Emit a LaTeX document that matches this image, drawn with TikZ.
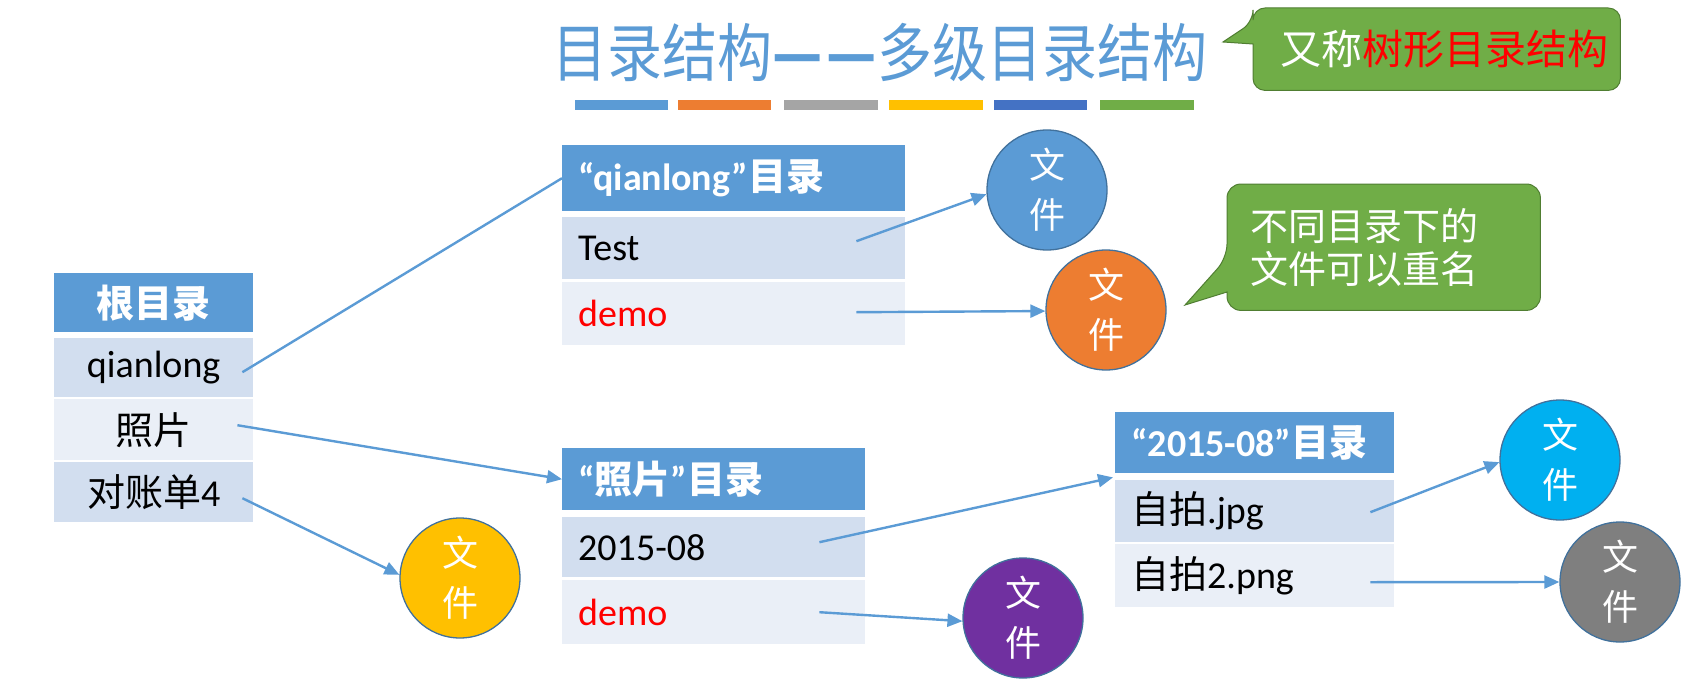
\documentclass[tikz,border=0pt]{standalone}
\usepackage{fontspec}
\usepackage{graphicx}
\setmainfont{Carlito}
\newfontfamily\cjk{Noto Sans CJK SC}
\usetikzlibrary{arrows.meta,calc,backgrounds}
\definecolor{hdrc}{HTML}{5B9BD5}
\definecolor{rowac}{HTML}{D2DEEF}
\definecolor{rowbc}{HTML}{EAEFF7}
\definecolor{arrc}{HTML}{5B9BD5}
\definecolor{cblue}{HTML}{5B9BD5}
\definecolor{corange}{HTML}{ED7D31}
\definecolor{cgray}{HTML}{A5A5A5}
\definecolor{cyellow}{HTML}{FFC000}
\definecolor{cdblue}{HTML}{4472C4}
\definecolor{cgreen}{HTML}{70AD47}
\definecolor{cpurple}{HTML}{7030A0}
\definecolor{ccyan}{HTML}{00B0F0}
\definecolor{cdgray}{HTML}{7F7F7F}
\definecolor{circline}{HTML}{41719C}
\definecolor{calloutline}{HTML}{507E32}
\definecolor{redtxt}{HTML}{FF0000}
\tikzset{
  cell/.style={anchor=north west, inner xsep=16pt, inner ysep=0pt, align=left,
    font=\fontsize{38}{42}\selectfont},
  hdr/.style={cell, fill=hdrc, text=white, font=\fontsize{38}{42}\selectfont\bfseries},
  rowa/.style={cell, fill=rowac, text=black},
  rowb/.style={cell, fill=rowbc, text=black},
  fcirc/.style={circle, minimum size=120pt, inner sep=0pt, draw=circline, line width=1.3pt,
    text=white, align=center, font=\cjk\fontsize{36}{50}\selectfont},
  conn/.style={draw=arrc, line width=2.4pt},
  arr/.style={conn, -{Triangle[length=15pt,width=13pt]}},
  callout/.style={fill=cgreen, draw=calloutline, line width=1pt},
}
\begin{document}
\begin{tikzpicture}[x=1pt,y=-1pt]
\useasboundingbox (0,0) rectangle (1704,682);

% title
\node[text=hdrc, font=\cjk\fontsize{55}{60}\selectfont, inner sep=0pt] (ttl) at (880,52)
  {\scalebox{1}[1.15]{目录结构{\bfseries —\hspace{4pt}—}多级目录结构}};
\fill[cblue]   (575,100) rectangle (668,110);
\fill[corange] (678,100) rectangle (771,110);
\fill[cgray]   (784,100) rectangle (878,110);
\fill[cyellow] (889,100) rectangle (983,110);
\fill[cdblue]  (994,100) rectangle (1087,110);
\fill[cgreen]  (1100,100) rectangle (1194,110);

% callout 1
\node[anchor=north west, minimum width=367pt, minimum height=82pt, inner sep=0pt,
  text=white, font=\cjk\fontsize{41}{46}\selectfont] (co1) at (1253,8)
  {\hspace*{16pt}又称{\color{redtxt}树形目录结构}};
\begin{scope}[on background layer]
\draw[callout] ($(co1.north west)+(0,36)$) [rounded corners=12pt] -- (co1.south west)
  -- (co1.south east) -- (co1.north east) -- (co1.north west) -- ($(co1.north west)+(0,14)$)
  [sharp corners] -- ($(co1.north west)+(-30,34)$) -- cycle;
\end{scope}

% callout 2
\node[anchor=north west, minimum width=313pt, minimum height=126pt, inner xsep=23pt,
  inner ysep=0pt, text width=267pt, align=left,
  text=white, font=\cjk\fontsize{38}{43}\selectfont] (co2) at (1227,184)
  {不同目录下的\\文件可以重名};
\begin{scope}[on background layer]
\draw[callout] ($(co2.north west)+(0,108)$) [rounded corners=14pt] -- (co2.south west)
  -- (co2.south east) -- (co2.north east) -- (co2.north west) -- ($(co2.north west)+(0,74)$)
  [sharp corners] -- ($(co2.north west)+(-42,121)$) -- cycle;
\end{scope}

% root table
\node[hdr, text width=167pt, minimum height=59pt, align=center] (rh) at (54,273) {{\cjk 根目录}};
\node[rowa, text width=167pt, minimum height=59pt, align=center] (r1) at (54,338) {qianlong};
\node[rowb, text width=167pt, minimum height=61pt, align=center] (r2) at (54,399) {{\cjk 照片}};
\node[rowa, text width=167pt, minimum height=60pt, align=center] (r3) at (54,462) {{\cjk 对账单}4};

% qianlong table
\node[hdr, text width=311pt, minimum height=66pt] (qh) at (562,145) {“qianlong”{\cjk 目录}};
\node[rowa, text width=311pt, minimum height=62pt] (qt) at (562,217) {Test};
\node[rowb, text width=311pt, minimum height=63pt, text=redtxt] (qd) at (562,282) {demo};

% photo table
\node[hdr, text width=271pt, minimum height=62pt] (ph) at (562,448) {“{\cjk 照片}”{\cjk 目录}};
\node[rowa, text width=271pt, minimum height=60pt] (p1) at (562,517) {2015-08};
\node[rowb, text width=271pt, minimum height=64pt, text=redtxt] (p2) at (562,580) {demo};

% 2015-08 table
\node[hdr, text width=247pt, minimum height=61pt] (dh) at (1115,412) {“2015-08”{\cjk 目录}};
\node[rowa, text width=247pt, minimum height=62pt] (d1) at (1115,480) {{\cjk 自拍}.jpg};
\node[rowb, text width=247pt, minimum height=63pt] (d2) at (1115,544) {{\cjk 自拍}2.png};

% file circles
\node[fcirc, fill=cblue]   (fb) at (1047,190) {文\\件};
\node[fcirc, fill=corange] (fo) at (1106,310) {文\\件};
\node[fcirc, fill=cyellow] (fy) at (460,578)  {文\\件};
\node[fcirc, fill=cpurple] (fp) at (1023,618) {文\\件};
\node[fcirc, fill=ccyan]   (fc) at (1560,460) {文\\件};
\node[fcirc, fill=cdgray]  (fg) at (1620,582) {文\\件};

% connectors
\draw[conn] ($(r1.east)+(-11,4.5)$) -- (qh.west);
\draw[arr] ($(r2.east)+(-16,-4.5)$) -- (ph.west);
\draw[arr] ($(r3.east)+(-11,6)$) -- (fy.177);
\draw[arr] ($(qt.east)+(-49,-7)$) -- (fb.184);
\draw[arr] ($(qd.east)+(-49,-1.5)$) -- (fo.181);
\draw[arr] ($(p1.east)+(-46,-5)$) -- ($(dh.south west)+(-2,4)$);
\draw[arr] ($(p2.east)+(-46,0)$) -- (fp.183);
\draw[arr] ($(d1.east)+(-24,1)$) -- (fc.182);
\draw[arr] ($(d2.east)+(-24,6.5)$) -- (fg.west);
\end{tikzpicture}
\end{document}
